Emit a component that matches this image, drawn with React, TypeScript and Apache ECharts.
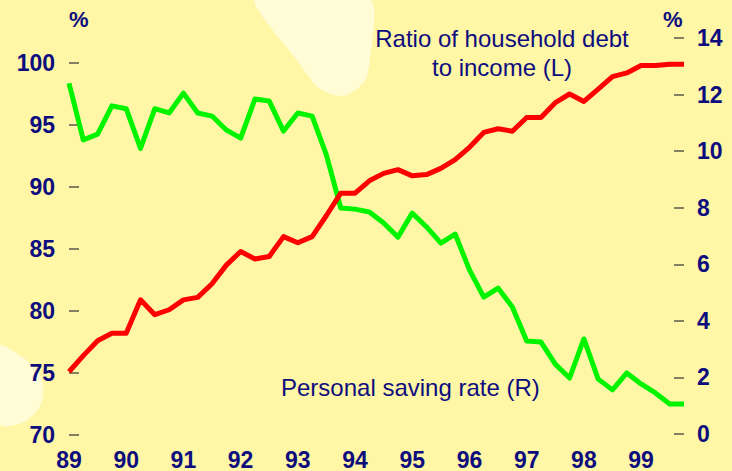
import React, { useEffect, useRef } from "react";
import * as echarts from "echarts";

const years = ["89", "90", "91", "92", "93", "94", "95", "96", "97", "98", "99"];
const quarters = years.flatMap((y) => [`${y}Q1`, `${y}Q2`, `${y}Q3`, `${y}Q4`]);

// Ratio of household debt to income (L), %
const debtRatio = [
  75.1, 76.4, 77.6, 78.2, 78.2, 80.9, 79.7, 80.1, 80.9, 81.1, 82.2, 83.7,
  84.8, 84.2, 84.4, 86.0, 85.5, 86.0, 87.7, 89.5, 89.5, 90.5, 91.1, 91.4,
  90.9, 91.0, 91.5, 92.2, 93.2, 94.4, 94.7, 94.5, 95.6, 95.6, 96.8, 97.5,
  96.9, 97.9, 98.9, 99.2, 99.8, 99.8, 99.9, 99.9,
];

// Personal saving rate (R), %
const savingRate = [
  12.4, 10.4, 10.6, 11.6, 11.5, 10.1, 11.5, 11.35, 12.05, 11.35, 11.24, 10.75,
  10.46, 11.84, 11.77, 10.71, 11.35, 11.24, 9.86, 7.99, 7.95, 7.85, 7.46, 6.96,
  7.81, 7.32, 6.75, 7.07, 5.8, 4.84, 5.16, 4.49, 3.29, 3.25, 2.47, 1.98,
  3.36, 1.94, 1.56, 2.16, 1.77, 1.45, 1.06, 1.06,
];

const leftTicks = { min: 70, max: 100, interval: 5 };
const rightTicks = { min: 0, max: 14, interval: 2 };

const NAVY = "#0d0d7e";
const FONT = 'Arial, "Liberation Sans", Helvetica, sans-serif';

export default function App() {
  const ref = useRef<HTMLDivElement>(null);

  useEffect(() => {
    if (!ref.current) return;
    const chart = echarts.init(ref.current, undefined, { renderer: "svg" });
    const tickStyle = {
      show: true,
      inside: true,
      length: 10,
      lineStyle: { color: "#5a5a4a", width: 1.5 },
    };
    chart.setOption({
      animation: false,
      backgroundColor: "#fff6a6",
      textStyle: { fontFamily: FONT },
      graphic: [
        {
          type: "polygon",
          z: -10,
          silent: true,
          shape: {
            points: [
              [255, 0], [300, 64], [316, 86], [328, 93], [343, 96],
              [356, 90], [366, 79], [370, 60], [371, 0],
            ],
            smooth: 0.2,
          },
          style: { fill: "#fffcd6" },
        },
        {
          type: "polygon",
          z: -10,
          silent: true,
          shape: {
            points: [
              [0, 346], [18, 354], [33, 366], [42, 380], [43, 397],
              [37, 411], [22, 423], [0, 424],
            ],
            smooth: 0.3,
          },
          style: { fill: "#fffcd6" },
        },
        {
          type: "text",
          left: 69,
          top: 8,
          style: { text: "%", fill: NAVY, font: `bold 22px ${FONT}` },
        },
        {
          type: "text",
          left: 663,
          top: 8,
          style: { text: "%", fill: NAVY, font: `bold 22px ${FONT}` },
        },
        {
          type: "text",
          x: 502,
          y: 24,
          style: {
            text: "Ratio of household debt\nto income (L)",
            fill: NAVY,
            font: `24px ${FONT}`,
            lineHeight: 29,
            align: "center",
            verticalAlign: "top",
          },
        },
        {
          type: "text",
          x: 281,
          y: 387,
          style: {
            text: "Personal saving rate (R)",
            fill: NAVY,
            font: `24px ${FONT}`,
            verticalAlign: "middle",
          },
        },
      ],
      grid: [
        { left: 69, width: 615, top: 63, height: 372 },
        { left: 69, width: 615, top: 38, height: 396 },
      ],
      xAxis: [
        {
          type: "category",
          gridIndex: 0,
          data: quarters,
          boundaryGap: false,
          axisLine: { show: false },
          axisTick: { show: false },
          splitLine: { show: false },
          axisLabel: {
            interval: 3,
            margin: 13,
            color: NAVY,
            fontSize: 23,
            fontWeight: "bold",
            fontFamily: FONT,
            formatter: (v: string) => v.slice(0, 2),
          },
        },
        {
          type: "category",
          gridIndex: 1,
          data: quarters,
          boundaryGap: false,
          show: false,
        },
      ],
      yAxis: [
        {
          type: "value",
          gridIndex: 0,
          position: "left",
          ...leftTicks,
          axisLine: { show: false },
          axisTick: tickStyle,
          splitLine: { show: false },
          axisLabel: {
            margin: 14,
            color: NAVY,
            fontSize: 23,
            fontWeight: "bold",
            fontFamily: FONT,
          },
        },
        {
          type: "value",
          gridIndex: 1,
          position: "right",
          ...rightTicks,
          axisLine: { show: false },
          axisTick: tickStyle,
          splitLine: { show: false },
          axisLabel: {
            margin: 13,
            color: NAVY,
            fontSize: 23,
            fontWeight: "bold",
            fontFamily: FONT,
          },
        },
      ],
      series: [
        {
          name: "Personal saving rate (R)",
          type: "line",
          xAxisIndex: 1,
          yAxisIndex: 1,
          data: savingRate,
          symbol: "none",
          lineStyle: { color: "#00f400", width: 5, join: "round" },
          z: 3,
        },
        {
          name: "Ratio of household debt to income (L)",
          type: "line",
          xAxisIndex: 0,
          yAxisIndex: 0,
          data: debtRatio,
          symbol: "none",
          lineStyle: { color: "#ff0000", width: 5, join: "round" },
          z: 4,
        },
      ],
    });
    return () => chart.dispose();
  }, []);

  return (
    <div
      ref={ref}
      style={{ position: "absolute", left: 0, top: 0, width: 732, height: 471 }}
    />
  );
}
